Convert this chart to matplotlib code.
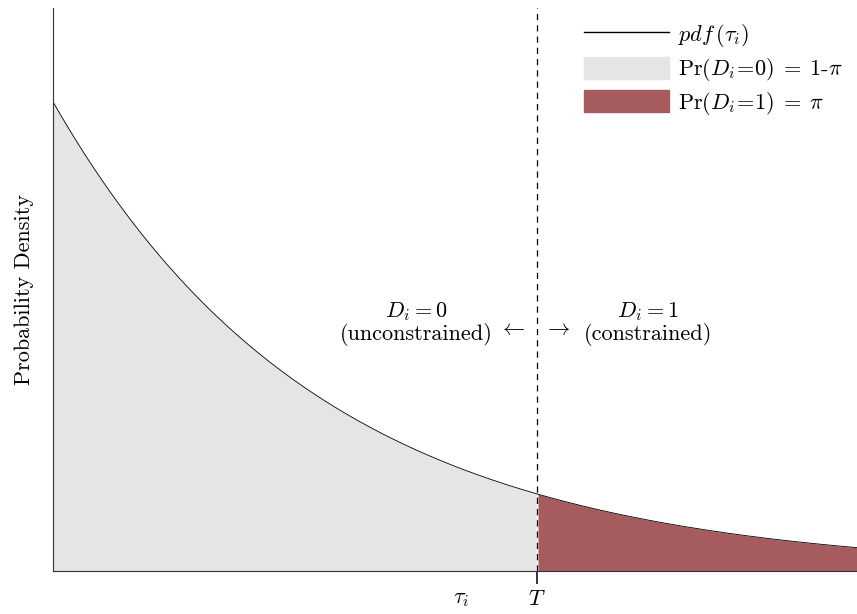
import numpy as np
import matplotlib
matplotlib.use("Agg")
import matplotlib.pyplot as plt
import matplotlib.patches as mpatches
from matplotlib.lines import Line2D

plt.rcParams['font.family'] = 'serif'
plt.rcParams['font.serif'] = ['cmr10']
plt.rcParams['mathtext.fontset'] = 'cm'
plt.rcParams['axes.formatter.use_mathtext'] = True

# exponential pdf parameters
rate = 0.6
T = 3.01
tau_i = 2.54
x_max = 5.0

grey = '#e5e5e5'
maroon = '#a65c5f'

x = np.linspace(0, x_max, 500)
pdf = rate * np.exp(-rate * x)

fig = plt.figure(figsize=(8.57, 6.14), dpi=100)
ax = fig.add_axes([53 / 857, 43 / 614, 804 / 857, 563 / 614])

left = x <= T
right = x >= T
ax.fill_between(x[left], 0, pdf[left], color=grey, lw=0)
ax.fill_between(x[right], 0, pdf[right], color=maroon, lw=0)
ax.plot(x, pdf, color='black', lw=0.6)
ax.axvline(T, color='black', ls=(0, (5, 4)), lw=0.9)

ax.set_xlim(0, x_max)
ax.set_ylim(0, 0.72)
for s in ['top', 'right']:
    ax.spines[s].set_visible(False)
ax.spines['left'].set_color('#333333')
ax.spines['bottom'].set_color('#333333')
ax.set_yticks([])
ax.set_xticks([tau_i, T])
ax.set_xticklabels([r'$\tau_i$', r'$T$'], fontsize=16)
ax.tick_params(axis='x', length=9, width=1.1, pad=4)
ax.get_xticklines()[0].set_visible(False)
ax.set_ylabel('Probability Density', fontsize=16, labelpad=14)

ax.text(2.26, 0.332, r'$D_i = 0$', fontsize=16, ha='center', va='center')
ax.text(2.26, 0.302, '(unconstrained)', fontsize=16, ha='center', va='center')
ax.text(2.86, 0.309, r'$\leftarrow$', fontsize=16, ha='center', va='center')
ax.text(3.14, 0.309, r'$\rightarrow$', fontsize=16, ha='center', va='center')
ax.text(3.70, 0.332, r'$D_i = 1$', fontsize=16, ha='center', va='center')
ax.text(3.70, 0.302, '(constrained)', fontsize=16, ha='center', va='center')

handles = [
    Line2D([0], [0], color='black', lw=1),
    mpatches.Patch(color=grey),
    mpatches.Patch(color=maroon),
]
labels = [
    r'$pdf\,(\tau_i)$',
    r'$\mathrm{Pr}(D_i\!=\!0)\;=\;1$-$\pi$',
    r'$\mathrm{Pr}(D_i\!=\!1)\;=\;\pi$',
]
ax.legend(handles, labels, loc='upper right', bbox_to_anchor=(1.0, 1.0),
          frameon=False, fontsize=16, handlelength=3.8, handleheight=1.15,
          labelspacing=0.3, handletextpad=0.4, borderaxespad=0.25)

fig.savefig('out.png', dpi=100)
